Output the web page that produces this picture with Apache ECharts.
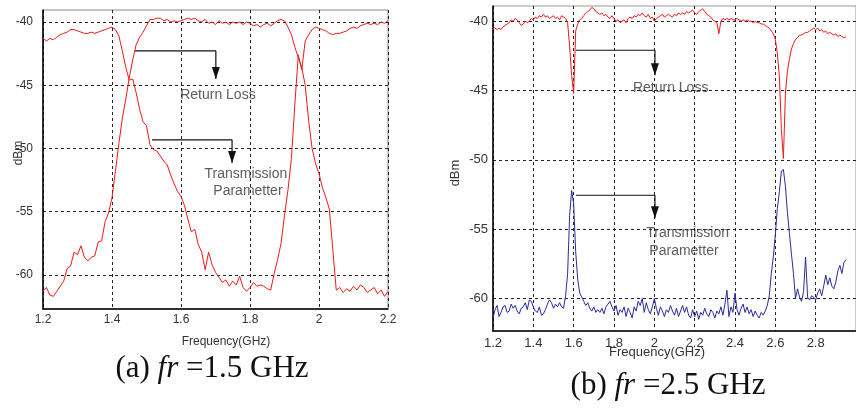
<!DOCTYPE html>
<html>
<head>
<meta charset="utf-8">
<script src="https://cdn.jsdelivr.net/npm/echarts@6/dist/echarts.min.js"></script>
<style>html,body{margin:0;padding:0;background:#fff}#c{width:856px;height:408px}</style>
</head>
<body>
<div id="c"></div>
<script>
// ---------- (a) fr = 1.5 GHz ----------
const leftFreq = [1.20,1.21,1.22,1.23,1.24,1.25,1.26,1.27,1.28,1.29,1.30,1.31,1.32,1.33,1.34,1.35,1.36,1.37,1.38,1.39,1.40,1.41,1.42,1.43,1.44,1.45,1.46,1.47,1.48,1.49,1.50,1.51,1.52,1.53,1.54,1.55,1.56,1.57,1.58,1.59,1.60,1.61,1.62,1.63,1.64,1.65,1.66,1.67,1.68,1.69,1.70,1.71,1.72,1.73,1.74,1.75,1.76,1.77,1.78,1.79,1.80,1.81,1.82,1.83,1.84,1.85,1.86,1.87,1.88,1.89,1.90,1.91,1.92,1.93,1.94,1.95,1.96,1.97,1.98,1.99,2.00,2.01,2.02,2.03,2.04,2.05,2.06,2.07,2.08,2.09,2.10,2.11,2.12,2.13,2.14,2.15,2.16,2.17,2.18,2.19,2.20];
const leftCurve1 = [-41.3,-41.5,-41.3,-41.4,-41.2,-41.0,-40.9,-40.8,-40.6,-40.6,-40.7,-40.8,-40.9,-40.9,-40.8,-40.9,-40.8,-40.7,-40.6,-40.5,-40.4,-40.6,-41.1,-42.3,-43.6,-44.6,-44.5,-45.6,-46.9,-47.9,-48.2,-49.7,-50.1,-50.2,-50.6,-51.0,-51.3,-52.1,-52.8,-53.4,-53.8,-54.5,-55.6,-56.6,-56.4,-57.6,-58.2,-59.6,-58.2,-59.2,-59.8,-60.2,-60.6,-60.4,-60.9,-60.5,-60.8,-60.1,-61.0,-61.3,-61.0,-60.6,-60.9,-60.8,-60.9,-61.1,-61.2,-59.9,-58.8,-57.5,-55.3,-53.3,-50.8,-46.5,-42.6,-43.8,-41.5,-41.0,-40.6,-40.4,-40.5,-40.6,-40.7,-40.9,-41.0,-40.9,-40.9,-40.8,-40.7,-40.5,-40.4,-40.5,-40.3,-40.2,-40.1,-40.2,-40.1,-40.2,-40.0,-40.1,-39.9];
const leftCurve2 = [-61.3,-61.0,-61.6,-61.7,-61.3,-60.9,-60.5,-59.5,-59.3,-58.2,-58.4,-57.7,-58.6,-58.9,-58.6,-58.5,-57.4,-57.3,-55.8,-55.1,-53.9,-51.8,-49.6,-47.6,-46.1,-44.4,-43.0,-41.8,-41.2,-40.8,-40.3,-39.8,-39.8,-39.7,-39.7,-39.9,-39.8,-40.0,-39.9,-40.0,-39.9,-39.8,-39.7,-39.8,-39.7,-39.9,-40.0,-39.8,-40.1,-40.0,-40.2,-39.9,-40.1,-40.0,-40.2,-40.0,-40.1,-40.0,-40.2,-40.0,-40.1,-40.3,-40.2,-40.4,-40.2,-40.1,-40.3,-40.1,-39.9,-39.8,-39.9,-40.4,-41.0,-42.0,-42.8,-43.6,-45.0,-47.8,-50.0,-51.2,-52.0,-53.1,-53.9,-54.8,-58.0,-61.2,-61.0,-61.4,-61.1,-61.3,-60.9,-61.2,-60.8,-61.0,-61.4,-61.2,-61.0,-61.5,-61.2,-61.7,-61.3];
const leftXTicks = [1.2,1.4,1.6,1.8,2.0,2.2];
const leftYTicks = [-60,-55,-50,-45,-40];

// ---------- (b) fr = 2.5 GHz ----------
const rightFreq = [1.20,1.21,1.22,1.23,1.24,1.25,1.26,1.27,1.28,1.29,1.30,1.31,1.32,1.33,1.34,1.35,1.36,1.37,1.38,1.39,1.40,1.41,1.42,1.43,1.44,1.45,1.46,1.47,1.48,1.49,1.50,1.51,1.52,1.53,1.54,1.55,1.56,1.57,1.58,1.59,1.60,1.61,1.62,1.63,1.64,1.65,1.66,1.67,1.68,1.69,1.70,1.71,1.72,1.73,1.74,1.75,1.76,1.77,1.78,1.79,1.80,1.81,1.82,1.83,1.84,1.85,1.86,1.87,1.88,1.89,1.90,1.91,1.92,1.93,1.94,1.95,1.96,1.97,1.98,1.99,2.00,2.01,2.02,2.03,2.04,2.05,2.06,2.07,2.08,2.09,2.10,2.11,2.12,2.13,2.14,2.15,2.16,2.17,2.18,2.19,2.20,2.21,2.22,2.23,2.24,2.25,2.26,2.27,2.28,2.29,2.30,2.31,2.32,2.33,2.34,2.35,2.36,2.37,2.38,2.39,2.40,2.41,2.42,2.43,2.44,2.45,2.46,2.47,2.48,2.49,2.50,2.51,2.52,2.53,2.54,2.55,2.56,2.57,2.58,2.59,2.60,2.61,2.62,2.63,2.64,2.65,2.66,2.67,2.68,2.69,2.70,2.71,2.72,2.73,2.74,2.75,2.76,2.77,2.78,2.79,2.80,2.81,2.82,2.83,2.84,2.85,2.86,2.87,2.88,2.89,2.90,2.91,2.92,2.93,2.94,2.95];
const rightReturnLoss = [-40.4,-40.5,-40.6,-40.5,-40.6,-40.4,-40.3,-40.2,-40.1,-39.9,-40.0,-39.8,-39.9,-40.1,-40.3,-40.2,-40.0,-40.1,-40.0,-39.8,-39.9,-39.7,-39.8,-39.6,-39.7,-39.5,-39.7,-39.6,-39.8,-39.7,-39.6,-39.8,-39.7,-39.9,-39.6,-39.7,-39.8,-40.1,-41.8,-43.9,-45.2,-40.7,-40.2,-39.9,-39.8,-39.6,-39.4,-39.3,-39.2,-39.0,-39.1,-39.3,-39.4,-39.5,-39.4,-39.6,-39.5,-39.7,-39.8,-39.6,-39.8,-40.0,-39.9,-40.1,-40.0,-39.9,-40.1,-39.8,-39.7,-39.8,-39.6,-39.7,-39.5,-39.6,-39.4,-39.6,-39.7,-39.5,-39.8,-39.7,-40.0,-39.8,-39.7,-39.6,-39.5,-39.7,-39.6,-39.5,-39.6,-39.7,-39.5,-39.6,-39.4,-39.5,-39.4,-39.5,-39.3,-39.4,-39.3,-39.2,-39.4,-39.5,-39.3,-39.2,-39.1,-39.3,-39.5,-39.6,-39.7,-39.9,-40.0,-40.1,-40.9,-40.0,-39.8,-39.9,-39.8,-39.9,-39.8,-39.9,-39.9,-39.8,-39.9,-40.0,-39.9,-40.0,-39.9,-40.0,-40.0,-40.1,-40.0,-40.1,-40.1,-40.2,-40.2,-40.3,-40.4,-40.5,-40.7,-40.9,-41.3,-42.3,-44.0,-47.8,-49.9,-45.2,-43.6,-42.7,-42.0,-41.6,-41.3,-41.2,-41.0,-41.0,-40.9,-40.8,-40.8,-40.7,-40.6,-40.5,-40.6,-40.5,-40.7,-40.6,-40.8,-40.7,-40.9,-40.8,-40.9,-41.0,-40.9,-41.1,-41.0,-41.1,-41.2,-41.1];
const rightTransmission = [-61.4,-60.8,-60.5,-61.3,-61.0,-60.6,-60.5,-61.0,-60.9,-60.4,-60.7,-60.5,-60.9,-61.1,-60.7,-60.6,-60.3,-60.8,-60.1,-60.2,-60.6,-60.9,-61.0,-60.6,-61.2,-61.1,-60.8,-60.4,-60.1,-60.3,-60.7,-60.4,-60.6,-60.3,-60.6,-60.7,-59.8,-58.2,-54.0,-52.2,-53.2,-56.6,-58.6,-59.6,-59.9,-60.2,-60.5,-60.3,-60.7,-60.9,-60.6,-61.0,-60.8,-61.0,-60.7,-61.1,-60.6,-60.4,-60.2,-60.6,-60.9,-60.5,-61.2,-60.8,-61.0,-60.6,-61.3,-60.7,-61.0,-61.4,-60.6,-60.9,-60.2,-60.5,-60.0,-61.0,-60.3,-60.8,-61.1,-60.6,-60.0,-60.7,-61.2,-60.6,-60.9,-61.3,-60.8,-61.0,-60.5,-60.9,-61.2,-60.7,-61.3,-60.9,-60.5,-61.0,-60.6,-61.2,-61.4,-60.8,-61.3,-60.9,-61.5,-61.0,-61.2,-60.7,-61.1,-61.3,-60.8,-61.0,-61.4,-60.9,-61.1,-60.6,-61.2,-60.4,-59.4,-61.3,-60.6,-61.0,-59.6,-60.8,-61.2,-60.7,-60.4,-61.0,-60.6,-61.1,-60.8,-61.3,-60.9,-61.2,-61.4,-61.0,-61.2,-60.9,-60.5,-59.8,-58.2,-57.0,-55.4,-53.5,-52.3,-50.8,-50.7,-51.9,-53.8,-55.3,-56.8,-58.2,-60.0,-59.3,-59.9,-60.2,-59.5,-57.0,-59.9,-60.1,-59.8,-59.9,-60.1,-59.6,-59.3,-59.8,-59.1,-58.3,-59.0,-58.5,-59.1,-59.3,-58.8,-58.0,-57.6,-58.2,-57.4,-57.2];
const rightXTicks = [1.2,1.4,1.6,1.8,2.0,2.2,2.4,2.6,2.8];
const rightYTicks = [-60,-55,-50,-45,-40];

// ---------- annotations (data units: GHz, dBm) ----------
const leftRLArrow = [[1.467,-42.29],[1.701,-42.29],[1.701,-44.5]];
const leftTPArrow = [[1.516,-49.33],[1.748,-49.33],[1.748,-51.15]];
const rightRLArrow = [[1.611,-42.09],[2.003,-42.09],[2.003,-43.9]];
const rightTPArrow = [[1.611,-52.55],[2.003,-52.55],[2.003,-54.21]];
const leftLabels = [['Return Loss',1.707,-45.77],['Transmission',1.788,-52.0],['Parametter',1.794,-53.4]];
const rightLabels = [['Return Loss',2.081,-44.81],['Transmission',2.165,-55.31],['Parametter',2.147,-56.57]];

const SANS = 'Arial, "Liberation Sans", sans-serif';
const SERIF = '"Liberation Serif", "Times New Roman", serif';

function zip(xs, ys){ return xs.map((x,i)=>[x, ys[i]]); }
function arrowData(pts){
  return pts.map((p,i)=> i===pts.length-1
    ? {value:p, symbol:'triangle', symbolSize:[8,12], symbolRotate:180, symbolOffset:[0,-6]}
    : {value:p, symbol:'none'});
}
function arrowSeries(pts, idx){
  return {type:'line', xAxisIndex:idx, yAxisIndex:idx, data:arrowData(pts), symbol:'none', showSymbol:true,
    lineStyle:{color:'#111', width:1.2}, itemStyle:{color:'#111'}, z:5, silent:true};
}
function labelSeries(items, idx, fs){
  return {type:'scatter', xAxisIndex:idx, yAxisIndex:idx, symbolSize:0, z:6, silent:true,
    data: items.map(t=>({name:t[0], value:[t[1],t[2]]})),
    label:{show:true, position:'inside', formatter:'{b}', color:'#333', fontFamily:SANS, fontSize:fs}};
}
function xAxis(idx, min, max, ticks, fs, margin){
  return {gridIndex:idx, type:'value', min:min, max:max,
    axisLine:{onZero:false, lineStyle:{color:'#000', width:1.5}},
    axisTick:{show:false, customValues:ticks},
    axisLabel:{customValues:ticks, color:'#333', fontFamily:SANS, fontSize:fs, margin:margin},
    splitLine:{show:true, lineStyle:{color:'#222', type:[3,3], width:1}}};
}
function yAxis(idx, min, max, ticks, fs, margin){
  return {gridIndex:idx, type:'value', min:min, max:max,
    axisLine:{onZero:false, lineStyle:{color:'#000', width:1.5}},
    axisTick:{show:false, customValues:ticks},
    axisLabel:{customValues:ticks, color:'#333', fontFamily:SANS, fontSize:fs, margin:margin},
    splitLine:{show:true, lineStyle:{color:'#222', type:[3,3], width:1}}};
}

const chart = echarts.init(document.getElementById('c'), null, {renderer:'canvas'});
chart.setOption({
  animation:false,
  backgroundColor:'#fff',
  grid:[
    {left:43, top:10, width:345, height:299, show:true, borderColor:'#888', borderWidth:1},
    {left:493, top:6, width:372.6, height:325, show:true, borderColor:'#999', borderWidth:1}
  ],
  xAxis:[ xAxis(0, 1.2, 2.2, leftXTicks, 12, 5), xAxis(1, 1.2, 3.0, rightXTicks, 13, 6) ],
  yAxis:[ yAxis(0, -62.7, -39.05, leftYTicks, 12, 10), yAxis(1, -62.34, -38.9, rightYTicks, 13, 5) ],
  series:[
    {type:'line', xAxisIndex:0, yAxisIndex:0, data:zip(leftFreq,leftCurve1), symbol:'none', lineStyle:{color:'#f01818', width:1}},
    {type:'line', xAxisIndex:0, yAxisIndex:0, data:zip(leftFreq,leftCurve2), symbol:'none', lineStyle:{color:'#f01818', width:1}},
    {type:'line', xAxisIndex:1, yAxisIndex:1, data:zip(rightFreq,rightReturnLoss), symbol:'none', lineStyle:{color:'#f01818', width:1}},
    {type:'line', xAxisIndex:1, yAxisIndex:1, data:zip(rightFreq,rightTransmission), symbol:'none', lineStyle:{color:'#2a2a9c', width:1}},
    arrowSeries(leftRLArrow,0), arrowSeries(leftTPArrow,0),
    arrowSeries(rightRLArrow,1), arrowSeries(rightTPArrow,1),
    labelSeries(leftLabels,0,14), labelSeries(rightLabels,1,14)
  ],
  graphic:[
    {type:'text', x:19, y:153, rotation:Math.PI/2, style:{text:'dBm', fontFamily:SANS, fontSize:12, fill:'#333', align:'center', verticalAlign:'middle'}},
    {type:'text', x:455, y:173, rotation:Math.PI/2, style:{text:'dBm', fontFamily:SANS, fontSize:13, fill:'#333', align:'center', verticalAlign:'middle'}},
    {type:'text', x:226, y:342, style:{text:'Frequency(GHz)', fontFamily:SANS, fontSize:12, fill:'#333', align:'center', verticalAlign:'middle'}},
    {type:'text', x:657, y:352, style:{text:'Frequency(GHz)', fontFamily:SANS, fontSize:13, fill:'#333', align:'center', verticalAlign:'middle'}},
    {type:'text', x:212, y:369, style:{text:'{n|(a) }{i|fr}{n| =1.5 GHz}', align:'center', verticalAlign:'middle',
      rich:{n:{fontFamily:SERIF, fontSize:31, fill:'#111'}, i:{fontFamily:SERIF, fontSize:31, fontStyle:'italic', fill:'#111'}}}},
    {type:'text', x:668, y:386, style:{text:'{n|(b) }{i|fr}{n| =2.5 GHz}', align:'center', verticalAlign:'middle',
      rich:{n:{fontFamily:SERIF, fontSize:31, fill:'#111'}, i:{fontFamily:SERIF, fontSize:31, fontStyle:'italic', fill:'#111'}}}}
  ]
});
</script>
</body>
</html>
